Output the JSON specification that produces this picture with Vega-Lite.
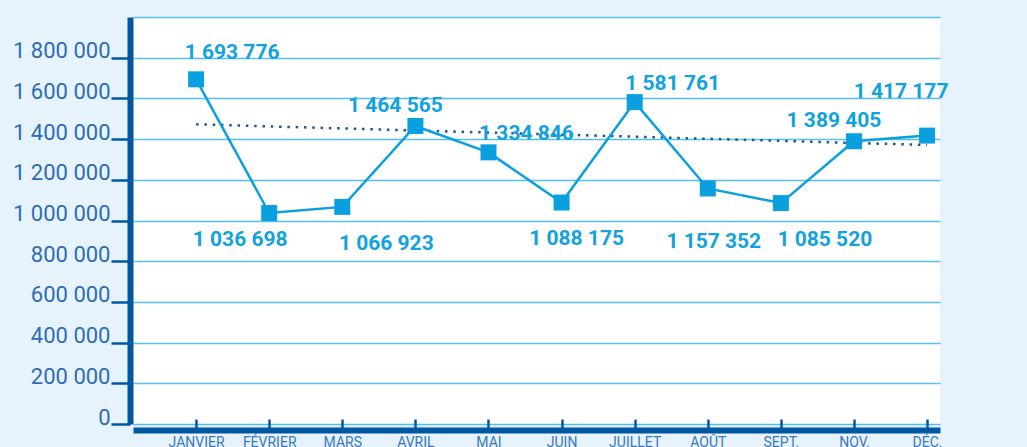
{
  "$schema": "https://vega.github.io/schema/vega-lite/v6.json",
  "width": 807,
  "height": 407,
  "autosize": "none",
  "padding": {"left": 133, "top": 17, "right": 87, "bottom": 23},
  "background": "#e7f3fc",
  "config": {
    "locale": {"number": {"decimal": ",", "thousands": " ", "grouping": [3], "currency": ["", " €"]}},
    "view": {"fill": "#ffffff", "stroke": null},
    "font": "Roboto"
  },
  "data": {
    "values": [
      {"mois": "JANVIER", "valeur": 1693776},
      {"mois": "FÉVRIER", "valeur": 1036698},
      {"mois": "MARS", "valeur": 1066923},
      {"mois": "AVRIL", "valeur": 1464565},
      {"mois": "MAI", "valeur": 1334846},
      {"mois": "JUIN", "valeur": 1088175},
      {"mois": "JUILLET", "valeur": 1581761},
      {"mois": "AOÛT", "valeur": 1157352},
      {"mois": "SEPT.", "valeur": 1085520},
      {"mois": "NOV.", "valeur": 1389405},
      {"mois": "DÉC.", "valeur": 1417177}
    ]
  },
  "encoding": {
    "x": {
      "field": "mois", "type": "nominal", "sort": null,
      "scale": {"type": "point", "domain": ["JANVIER", "FÉVRIER", "MARS", "AVRIL", "MAI", "JUIN", "JUILLET", "AOÛT", "SEPT.", "NOV.", "DÉC."], "padding": 0.52, "align": 0.83},
      "axis": {
        "title": null, "labelAngle": 0, "grid": false,
        "domainColor": "#0058a3", "domainWidth": 6, "offset": 6,
        "tickColor": "#0058a3", "tickWidth": 2.5, "tickSize": -11,
        "labelColor": "#3a78be", "labelFontSize": 14, "labelPadding": 16, "labelFont": "Roboto",
        "labelBound": false, "labelOverlap": false
      }
    },
    "y": {
      "field": "valeur", "type": "quantitative",
      "scale": {"domain": [0, 2000000], "nice": false, "zero": true},
      "axis": {
        "title": null,
        "values": [0, 200000, 400000, 600000, 800000, 1000000, 1200000, 1400000, 1600000, 1800000, 2000000],
        "format": ",d",
        "labelExpr": "datum.value >= 2000000 ? '' : datum.label",
        "grid": true, "gridColor": "#55c0ef", "gridWidth": 1.5,
        "domainColor": "#0058a3", "domainWidth": 6, "offset": 3,
        "tickColor": "#0058a3", "tickWidth": 2.5, "tickSize": 19,
        "tickOpacity": {"condition": {"test": "datum.value >= 2000000", "value": 0}, "value": 1},
        "labelColor": "#2d6db5", "labelFontSize": 22, "labelPadding": 1,
        "labelBaseline": "alphabetic", "labelFont": "Roboto"
      }
    }
  },
  "layer": [
    {
      "data": {"values": [
        {"mois": "JANVIER", "valeur": 1472700},
        {"mois": "DÉC.", "valeur": 1371000}
      ]},
      "mark": {"type": "line", "color": "#1d5796", "strokeWidth": 2.5, "strokeDash": [2.5, 5.8]}
    },
    {
      "mark": {"type": "line", "color": "#0aa0e0", "strokeWidth": 2.5}
    },
    {
      "mark": {"type": "point", "shape": "square", "filled": true, "size": 256, "opacity": 1, "color": "#0aa0e0"}
    },
    {
      "transform": [{"filter": {"field": "mois", "oneOf": ["JANVIER"]}}],
      "mark": {"type": "text", "font": "Roboto", "fontWeight": "bold", "fontSize": 21, "color": "#12a2e0", "align": "center", "baseline": "alphabetic", "dx": 36, "dy": -20},
      "encoding": {"text": {"field": "valeur", "type": "quantitative", "format": ",d"}}
    },
    {
      "transform": [{"filter": {"field": "mois", "oneOf": ["MAI", "JUILLET"]}}],
      "mark": {"type": "text", "font": "Roboto", "fontWeight": "bold", "fontSize": 21, "color": "#12a2e0", "align": "center", "baseline": "alphabetic", "dx": 38, "dy": -12},
      "encoding": {"text": {"field": "valeur", "type": "quantitative", "format": ",d"}}
    },
    {
      "transform": [{"filter": {"field": "mois", "oneOf": ["AVRIL", "NOV."]}}],
      "mark": {"type": "text", "font": "Roboto", "fontWeight": "bold", "fontSize": 21, "color": "#12a2e0", "align": "center", "baseline": "alphabetic", "dx": -20, "dy": -14},
      "encoding": {"text": {"field": "valeur", "type": "quantitative", "format": ",d"}}
    },
    {
      "transform": [{"filter": {"field": "mois", "oneOf": ["DÉC."]}}],
      "mark": {"type": "text", "font": "Roboto", "fontWeight": "bold", "fontSize": 21, "color": "#12a2e0", "align": "center", "baseline": "alphabetic", "dx": -26, "dy": -38},
      "encoding": {"text": {"field": "valeur", "type": "quantitative", "format": ",d"}}
    },
    {
      "transform": [{"filter": {"field": "mois", "oneOf": ["FÉVRIER"]}}],
      "mark": {"type": "text", "font": "Roboto", "fontWeight": "bold", "fontSize": 21, "color": "#12a2e0", "align": "center", "baseline": "alphabetic", "dx": -29, "dy": 33},
      "encoding": {"text": {"field": "valeur", "type": "quantitative", "format": ",d"}}
    },
    {
      "transform": [{"filter": {"field": "mois", "oneOf": ["MARS", "SEPT."]}}],
      "mark": {"type": "text", "font": "Roboto", "fontWeight": "bold", "fontSize": 21, "color": "#12a2e0", "align": "center", "baseline": "alphabetic", "dx": 44, "dy": 43},
      "encoding": {"text": {"field": "valeur", "type": "quantitative", "format": ",d"}}
    },
    {
      "transform": [{"filter": {"field": "mois", "oneOf": ["JUIN"]}}],
      "mark": {"type": "text", "font": "Roboto", "fontWeight": "bold", "fontSize": 21, "color": "#12a2e0", "align": "center", "baseline": "alphabetic", "dx": 15, "dy": 42},
      "encoding": {"text": {"field": "valeur", "type": "quantitative", "format": ",d"}}
    },
    {
      "transform": [{"filter": {"field": "mois", "oneOf": ["AOÛT"]}}],
      "mark": {"type": "text", "font": "Roboto", "fontWeight": "bold", "fontSize": 21, "color": "#12a2e0", "align": "center", "baseline": "alphabetic", "dx": 6, "dy": 60},
      "encoding": {"text": {"field": "valeur", "type": "quantitative", "format": ",d"}}
    }
  ]
}
